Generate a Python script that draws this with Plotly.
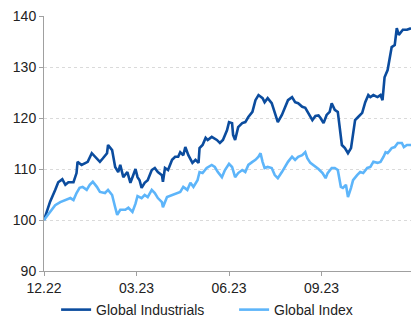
import plotly.graph_objects as go

ind_dates = ["2022-12-30","2023-01-05","2023-01-10","2023-01-13","2023-01-17","2023-01-20","2023-01-23","2023-01-28",
"2023-01-31","2023-02-01","2023-02-05","2023-02-08","2023-02-11","2023-02-15","2023-02-18","2023-02-23","2023-02-26",
"2023-03-02","2023-03-03","2023-03-07","2023-03-10","2023-03-13","2023-03-15","2023-03-18","2023-03-22","2023-03-25",
"2023-03-30","2023-04-01","2023-04-03","2023-04-05","2023-04-08","2023-04-11","2023-04-15","2023-04-18","2023-04-21",
"2023-04-25","2023-04-26","2023-04-28","2023-05-01","2023-05-05","2023-05-08","2023-05-11","2023-05-13","2023-05-16",
"2023-05-18","2023-05-21","2023-05-25","2023-05-28","2023-05-31","2023-06-01","2023-06-04","2023-06-07","2023-06-09",
"2023-06-13","2023-06-18","2023-06-21","2023-06-24","2023-06-28","2023-06-30","2023-07-03","2023-07-04","2023-07-06",
"2023-07-09","2023-07-13","2023-07-16","2023-07-19","2023-07-23","2023-07-26","2023-07-29","2023-08-02","2023-08-04",
"2023-08-07","2023-08-11","2023-08-14","2023-08-17","2023-08-21","2023-08-24","2023-08-27","2023-08-31","2023-09-03",
"2023-09-06","2023-09-10","2023-09-13","2023-09-16","2023-09-20","2023-09-23","2023-09-26","2023-09-28","2023-10-01",
"2023-10-04","2023-10-07","2023-10-09","2023-10-12","2023-10-15","2023-10-17","2023-10-19","2023-10-22","2023-10-25",
"2023-10-28","2023-10-30","2023-11-01","2023-11-04","2023-11-08","2023-11-11","2023-11-14","2023-11-16","2023-11-19",
"2023-11-23","2023-11-26","2023-11-28","2023-11-30","2023-12-03","2023-12-05","2023-12-07","2023-12-10","2023-12-12",
"2023-12-14","2023-12-16","2023-12-18","2023-12-22","2023-12-26"]
ind_values = [100,103.6,105.9,107.4,108.0,106.9,107.4,107.4,
109.2,111.4,110.8,111.1,111.4,113.1,112.4,111.4,112.1,
113.1,114.7,113.7,110.4,109.4,110.8,108.4,109.4,107.3,
110.0,108.4,107.8,106.3,107.3,107.8,109.8,110.2,109.4,
108.8,107.5,110.2,109.8,111.8,112.4,112.4,113.3,112.7,
114.3,112.7,111.2,111.8,111.2,114.1,114.7,116.1,115.7,
116.3,115.7,115.1,115.7,117.6,119.2,119.0,116.7,115.7,
118.2,119.0,119.2,120.2,121.2,123.5,124.5,123.9,123.1,
123.9,122.9,120.9,119.2,120.6,122.2,123.5,124.1,123.1,
122.9,122.2,122.0,120.9,119.6,120.4,120.5,120.0,119.0,
120.6,121.2,122.9,121.6,121.2,118.0,114.7,114.1,113.1,
114.1,116.7,119.6,120.2,121.0,123.1,124.5,124.1,124.5,
124.1,124.5,123.5,128.0,129.4,131.8,133.9,134.3,137.6,
136.3,136.7,137.3,137.3,137.6]

idx_dates = ["2022-12-30","2023-01-05","2023-01-10","2023-01-15","2023-01-20","2023-01-25","2023-01-28","2023-01-31",
"2023-02-03","2023-02-06","2023-02-10","2023-02-13","2023-02-16","2023-02-20","2023-02-23","2023-02-28","2023-03-03",
"2023-03-07","2023-03-10","2023-03-12","2023-03-15","2023-03-20","2023-03-23","2023-03-27","2023-03-30","2023-04-01",
"2023-04-05","2023-04-08","2023-04-11","2023-04-15","2023-04-18","2023-04-21","2023-04-25","2023-04-26","2023-04-30",
"2023-05-05","2023-05-10","2023-05-13","2023-05-16","2023-05-20","2023-05-23","2023-05-26","2023-05-30","2023-06-01",
"2023-06-04","2023-06-08","2023-06-13","2023-06-16","2023-06-19","2023-06-23","2023-06-26","2023-06-30","2023-07-03",
"2023-07-06","2023-07-09","2023-07-13","2023-07-16","2023-07-19","2023-07-23","2023-07-26","2023-07-29","2023-07-31",
"2023-08-02","2023-08-04","2023-08-07","2023-08-11","2023-08-14","2023-08-17","2023-08-21","2023-08-24","2023-08-27",
"2023-08-31","2023-09-03","2023-09-06","2023-09-10","2023-09-13","2023-09-15","2023-09-18","2023-09-21","2023-09-23",
"2023-09-26","2023-09-30","2023-10-03","2023-10-05","2023-10-09","2023-10-12","2023-10-15","2023-10-18","2023-10-20",
"2023-10-23","2023-10-25","2023-10-28","2023-10-30","2023-11-03","2023-11-06","2023-11-09","2023-11-13","2023-11-16",
"2023-11-19","2023-11-23","2023-11-26","2023-11-29","2023-12-01","2023-12-03","2023-12-07","2023-12-10","2023-12-13",
"2023-12-17","2023-12-19","2023-12-22","2023-12-26"]
idx_values = [100,101.6,102.9,103.5,103.9,104.3,103.9,105.3,
106.3,106.5,105.9,106.9,107.5,106.5,105.5,105.3,105.9,
104.9,102.5,101.0,102.0,102.0,102.4,101.6,103.2,104.7,
104.3,104.9,104.5,105.9,105.3,104.3,103.5,102.5,104.5,
104.9,105.3,105.5,106.5,105.9,107.3,106.5,107.8,109.4,
109.2,110.2,110.8,110.4,109.4,108.4,109.8,111.0,110.4,
108.4,109.2,109.8,109.4,110.8,111.4,111.8,112.4,113.1,
111.4,110.2,110.4,110.2,108.8,108.2,109.4,110.4,111.4,
112.4,111.8,112.4,112.7,113.3,112.1,111.2,110.8,110.4,
110.0,109.2,108.2,109.2,110.2,110.2,109.8,106.5,106.3,
106.9,104.5,106.3,107.8,108.8,109.4,109.2,110.2,110.4,
111.4,111.2,111.4,112.4,113.3,113.1,114.1,114.3,115.1,
115.1,114.3,114.7,114.7]

tick_dates = ["2022-12-30", "2023-03-31", "2023-06-30", "2023-09-29"]
tick_labels = ["12.22", "03.23", "06.23", "09.23"]
y_ticks = [90, 100, 110, 120, 130, 140]

fig = go.Figure()
fig.add_trace(go.Scatter(x=ind_dates, y=ind_values, mode="lines", name="Global Industrials",
                         line=dict(color="#0B4C9E", width=2.6), legend="legend"))
fig.add_trace(go.Scatter(x=idx_dates, y=idx_values, mode="lines", name="Global Index",
                         line=dict(color="#5DB5FA", width=2.6), legend="legend2"))

leg_common = dict(orientation="h", y=-0.153, yanchor="middle", xanchor="left",
                  font=dict(size=14), itemwidth=30, bgcolor="rgba(0,0,0,0)")
fig.update_layout(
    width=411, height=320,
    margin=dict(l=44, r=0, t=16, b=49, autoexpand=False),
    paper_bgcolor="white", plot_bgcolor="white",
    font=dict(family="Liberation Sans, Arial, sans-serif", size=14, color="#222222"),
    showlegend=True,
    legend=dict(x=0.033, **leg_common),
    legend2=dict(x=0.518, **leg_common),
)
fig.update_xaxes(
    type="date", range=["2022-12-30", "2023-12-26"],
    tickvals=tick_dates, ticktext=tick_labels,
    showgrid=False, showline=True, linecolor="#A0A0A0", linewidth=1,
    ticks="outside", ticklen=4, tickcolor="#A0A0A0", zeroline=False,
)
fig.update_yaxes(
    range=[90, 140], tickvals=y_ticks,
    showgrid=True, gridcolor="#DADADA", griddash="dot", gridwidth=1,
    showline=True, linecolor="#A0A0A0", linewidth=1,
    ticks="outside", ticklen=4, tickcolor="#A0A0A0", zeroline=False,
)
fig.write_html("out.html")
